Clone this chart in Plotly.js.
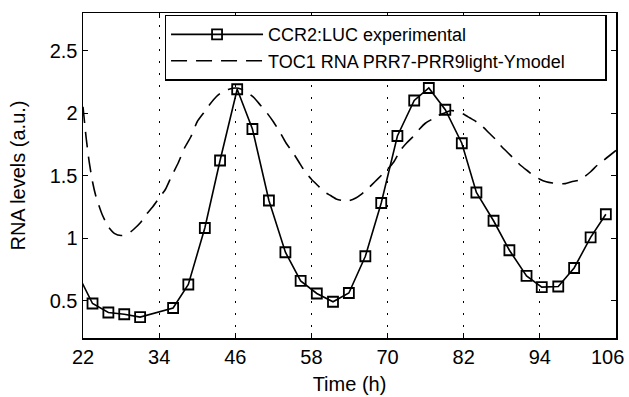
<!DOCTYPE html>
<html>
<head>
<meta charset="utf-8">
<script src="https://cdn.plot.ly/plotly-3.0.1.min.js"></script>
<style>html,body{margin:0;padding:0;background:#fff;}#chart{width:629px;height:397px;}</style>
</head>
<body>
<div id="chart"></div>
<script>
// CCR2:LUC experimental (time in h, RNA level a.u.)
const expTime = [21.0, 23.5, 26.0, 28.5, 31.0, 36.2, 38.6, 41.2, 43.6, 46.3, 48.7, 51.3, 53.9, 56.3, 58.85, 61.4, 63.9, 66.5, 69.0, 71.55, 74.2, 76.5, 79.1, 81.7, 84.0, 86.7, 89.2, 91.9, 94.3, 96.9, 99.4, 102.0, 104.4];
const expLevel = [0.73, 0.476, 0.404, 0.39, 0.367, 0.44, 0.628, 1.08, 1.62, 2.19, 1.872, 1.30, 0.886, 0.657, 0.556, 0.49, 0.56, 0.854, 1.28, 1.816, 2.10, 2.20, 2.026, 1.758, 1.364, 1.138, 0.902, 0.697, 0.607, 0.612, 0.76, 1.005, 1.19];

// TOC1 RNA PRR7-PRR9light-Ymodel
const modelTime = [22, 22.5, 23, 23.5, 24, 25, 26, 27, 28, 29, 30, 31, 32, 33, 34, 35, 36, 37, 38, 39, 40, 41, 42, 43, 44, 45, 46, 47, 48, 49, 50, 51, 52, 53, 54, 55, 56, 57, 58, 59, 60, 61, 62, 63, 64, 65, 66, 67, 68, 69, 70, 71, 72, 73, 74, 75, 76, 77, 78, 79, 80, 81, 82, 83, 84, 85, 86, 87, 88, 89, 90, 91, 92, 93, 94, 95, 96, 97, 98, 99, 100, 101, 102, 103, 104, 105, 106];
const modelLevel = [2.05, 1.8, 1.6, 1.45, 1.34, 1.19, 1.09, 1.035, 1.02, 1.03, 1.07, 1.12, 1.19, 1.25, 1.32, 1.39, 1.50, 1.60, 1.72, 1.81, 1.93, 2.00, 2.07, 2.13, 2.17, 2.19, 2.20, 2.19, 2.16, 2.12, 2.06, 2.00, 1.93, 1.85, 1.76, 1.69, 1.61, 1.53, 1.47, 1.42, 1.37, 1.34, 1.31, 1.30, 1.30, 1.32, 1.355, 1.40, 1.45, 1.50, 1.55, 1.61, 1.70, 1.76, 1.81, 1.87, 1.92, 1.95, 1.98, 2.00, 2.02, 2.01, 1.99, 1.96, 1.93, 1.89, 1.84, 1.79, 1.73, 1.68, 1.63, 1.58, 1.54, 1.50, 1.47, 1.45, 1.44, 1.435, 1.435, 1.45, 1.46, 1.49, 1.53, 1.58, 1.62, 1.66, 1.70];

const seriesNames = ['CCR2:LUC experimental', 'TOC1 RNA PRR7-PRR9light-Ymodel'];
const xTicks = [22, 34, 46, 58, 70, 82, 94, 106];
const xTickText = ['22', '34', '46', '58', '70', '82', '94', '106'];
const yTicks = [0.5, 1, 1.5, 2, 2.5];
const yTickText = ['0.5', '1', '1.5', '2', '2.5'];

const FONT = 'Liberation Sans, Arial, Helvetica, sans-serif';
const PAD = '\u00A0'.repeat(7);

const traces = [
  {
    x: expTime, y: expLevel, type: 'scatter', mode: 'lines+markers',
    name: seriesNames[0] + PAD,
    line: {color: '#000', width: 1.6},
    marker: {symbol: 'square-open', size: 10, color: '#000', line: {width: 1.8, color: '#000'}}
  },
  {
    x: modelTime, y: modelLevel, type: 'scatter', mode: 'lines',
    name: seriesNames[1] + PAD,
    line: {color: '#000', width: 1.6, dash: '16px,9px', shape: 'spline', smoothing: 0.6}
  }
];

// last x tick label is drawn as an annotation nudged inside the page (as in the reference)
const lastIdx = xTicks.length - 1;
const shownTickText = xTickText.map((t, i) => i === lastIdx ? '' : t);

const layout = {
  width: 629, height: 397,
  margin: {l: 83, r: 13, t: 13, b: 59},
  paper_bgcolor: '#fff', plot_bgcolor: '#fff',
  font: {family: FONT, size: 20, color: '#000'},
  showlegend: true,
  legend: {
    x: 0.153, y: 0.995, xanchor: 'left', yanchor: 'top',
    bgcolor: '#fff', bordercolor: '#000', borderwidth: 1.5,
    font: {family: FONT, size: 18, color: '#000'},
    itemwidth: 92
  },
  annotations: [{
    x: xTicks[lastIdx], xref: 'x', y: 0, yref: 'paper',
    text: xTickText[lastIdx], showarrow: false,
    xanchor: 'center', yanchor: 'middle', xshift: -9, yshift: -18.5,
    font: {family: FONT, size: 20, color: '#000'}
  }],
  xaxis: {
    range: [22, 106], tickvals: xTicks, ticktext: shownTickText,
    ticks: 'inside', ticklen: 5, tickwidth: 1, tickcolor: '#000',
    showline: true, linecolor: '#000', linewidth: 1.5, mirror: 'ticks',
    showgrid: true, gridcolor: '#000', gridwidth: 1, griddash: '1.5px,10.5px',
    zeroline: false,
    tickfont: {family: FONT, size: 20, color: '#000'},
    title: {text: 'Time (h)', font: {family: FONT, size: 20, color: '#000'}, standoff: 10}
  },
  yaxis: {
    range: [0.2, 2.8], tickvals: yTicks, ticktext: yTickText,
    ticks: 'inside', ticklen: 5, tickwidth: 1, tickcolor: '#000',
    showline: true, linecolor: '#000', linewidth: 1.5, mirror: 'ticks',
    showgrid: false, zeroline: false,
    tickfont: {family: FONT, size: 20, color: '#000'},
    title: {text: 'RNA levels (a.u.)', font: {family: FONT, size: 20, color: '#000'}, standoff: 18}
  }
};

Plotly.newPlot('chart', traces, layout, {displayModeBar: false, staticPlot: true});
</script>
</body>
</html>
